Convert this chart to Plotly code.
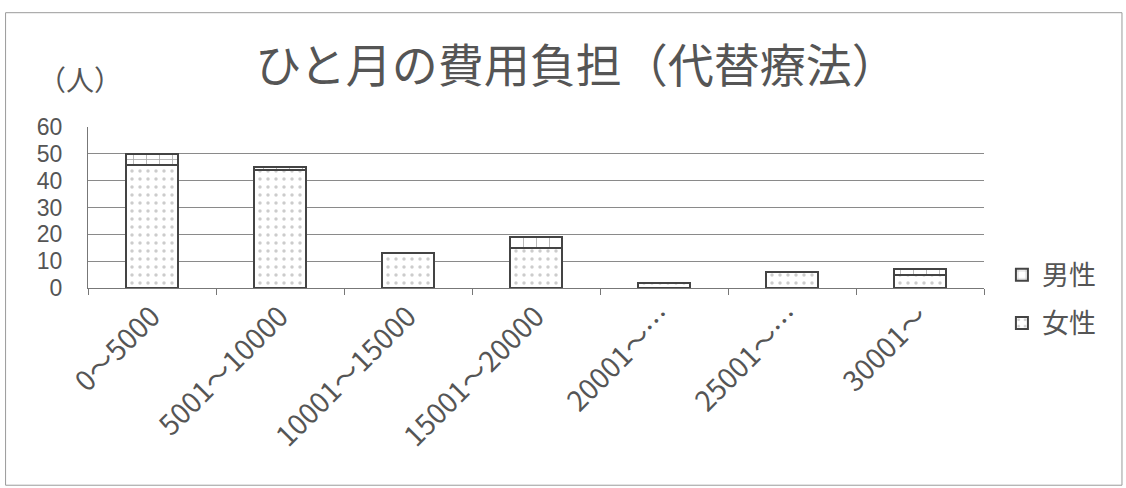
import plotly.graph_objects as go

categories = ["0～5000", "5001～10000", "10001～15000", "15001～20000",
              "20001～…", "25001～…", "30001～"]
female = [46, 44, 13, 15, 2, 6, 5]
male = [4, 1, 0, 4, 0, 0, 2]
y_ticks = [0, 10, 20, 30, 40, 50, 60]

FONT = "Noto Sans CJK JP"
TXT = "#555555"

fig = go.Figure()
fig.add_trace(go.Bar(
    x=categories, y=female, name="女性", legendgroup="f", legendrank=2,
    marker=dict(color="white", line=dict(color="#444444", width=2),
                pattern=dict(shape=".", fgcolor="#9a9a9a", size=8, solidity=0.15)),
))
fig.add_trace(go.Bar(
    x=categories, y=male, name="男性", legendgroup="m", legendrank=1,
    marker=dict(color="white", line=dict(color="#444444", width=2),
                pattern=dict(shape="+", fgcolor="#555555", size=13, solidity=0.12)),
))

fig.update_layout(
    barmode="stack",
    bargap=0.6,
    width=1126, height=488,
    margin=dict(l=88, r=142, t=127, b=200),
    paper_bgcolor="white", plot_bgcolor="white",
    font=dict(family=FONT, color=TXT),
    title=dict(text="ひと月の費用負担（代替療法）", x=0.512, xanchor="center",
               y=0.865, yanchor="middle",
               font=dict(family=FONT, size=46, color=TXT)),
    legend=dict(x=1.02, xanchor="left", y=-0.07, yanchor="middle",
                traceorder="grouped", tracegroupgap=10,
                font=dict(family=FONT, size=27, color=TXT),
                itemwidth=30, bgcolor="rgba(0,0,0,0)"),
    showlegend=True,
)
fig.update_yaxes(
    range=[0, 60], tickvals=y_ticks, ticktext=[str(v) for v in y_ticks],
    showgrid=True, gridcolor="#8a8a8a", gridwidth=1,
    showline=True, linecolor="#777777", linewidth=1,
    ticks="", ticklen=0, ticklabelstandoff=20,
    tickfont=dict(family="Liberation Sans", size=23, color=TXT),
    zeroline=False,
)
fig.update_xaxes(
    showline=True, linecolor="#777777", linewidth=1,
    tickson="boundaries", ticks="outside", ticklen=6, tickcolor="#777777",
    tickangle=-45, tickfont=dict(family=FONT, size=28, color=TXT),
)
fig.add_annotation(text="（人）", x=-0.009, xref="paper", y=1.30, yref="paper",
                   xanchor="center", yanchor="middle",
                   showarrow=False, font=dict(family=FONT, size=28, color=TXT))
fig.add_shape(type="rect", xref="paper", yref="paper",
              x0=-0.092, x1=1.154, y0=-1.225, y1=1.71,
              line=dict(color="#9a9a9a", width=1), layer="below")

fig.write_html("out.html")
